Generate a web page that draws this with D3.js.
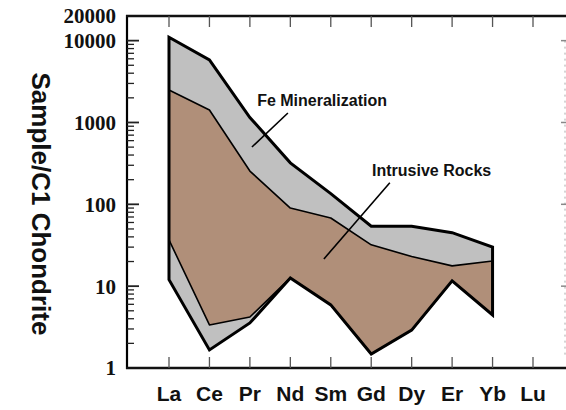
<!DOCTYPE html>
<html><head><meta charset="utf-8">
<script src="https://cdn.jsdelivr.net/npm/d3@7"></script>
<style>body{margin:0;background:#fff}svg{display:block}</style>
</head><body>
<svg id="c" width="566" height="410"></svg>
<script>
const elements = ["La","Ce","Pr","Nd","Sm","Gd","Dy","Er","Yb","Lu"];
// La..Yb values
const feUpper    = [11000, 5800, 1150, 321, 135, 54, 54, 45, 30];
const feLower    = [12, 1.66, 3.55, 12.6, 5.9, 1.48, 2.9, 11.6, 4.45];
const intrUpper  = [2500, 1420, 255, 90, 68, 32, 23, 17.7, 20.3];
const intrLower  = [36.7, 3.36, 4.2, 12.6, 5.9, 1.48, 2.9, 11.6, 4.45];
const yTickLabels = [1, 10, 100, 1000, 10000, 20000];
const yTitle = "Sample/C1 Chondrite";
const labels = [
  {text: "Fe Mineralization", at: [2.18, 1585], leader: [[2.94, 1306], [2.05, 501]]},
  {text: "Intrusive Rocks", at: [5.02, 222], leader: [[5.46, 183], [3.83, 21.5]]}
];

const svg = d3.select("#c");
const L = 127, R = 566, T = 16, B = 368;
const x = d3.scaleLinear().domain([0, 9]).range([169, 533]);
const y = d3.scaleLog().domain([1, 20000]).range([B, T]);

const area = (up, lo) => {
  const pts = up.map((v, i) => [x(i), y(v)]);
  const pts2 = lo.map((v, i) => [x(i), y(v)]).reverse();
  return d3.line()(pts.concat(pts2)) + "Z";
};

// Fields
svg.append("path").attr("d", area(feUpper, feLower)).attr("fill", "#c0c0c0").attr("stroke", "none");
svg.append("path").attr("d", area(intrUpper, intrLower)).attr("fill", "#b08f79")
  .attr("stroke", "#000").attr("stroke-width", 1.6).attr("stroke-linejoin", "round");
svg.append("path").attr("d", area(feUpper, feLower)).attr("fill", "none")
  .attr("stroke", "#000").attr("stroke-width", 3).attr("stroke-linejoin", "miter");

// Leader lines and labels
labels.forEach(l => {
  svg.append("line")
    .attr("x1", x(l.leader[0][0])).attr("y1", y(l.leader[0][1]))
    .attr("x2", x(l.leader[1][0])).attr("y2", y(l.leader[1][1]))
    .attr("stroke", "#000").attr("stroke-width", 1.6);
  svg.append("text").attr("x", x(l.at[0])).attr("y", y(l.at[1]))
    .attr("font-family", "Liberation Sans, Arial, sans-serif").attr("font-weight", "bold")
    .attr("font-size", 16).attr("fill", "#111").text(l.text);
});

// Frame
svg.append("line").attr("x1", L).attr("x2", L).attr("y1", T - 1).attr("y2", B + 1).attr("stroke", "#000").attr("stroke-width", 2.2);
svg.append("line").attr("x1", L - 1).attr("x2", R).attr("y1", T).attr("y2", T).attr("stroke", "#111").attr("stroke-width", 2.5);
svg.append("line").attr("x1", L - 1).attr("x2", R).attr("y1", B).attr("y2", B).attr("stroke", "#111").attr("stroke-width", 2.5);

// Right faint axis
svg.append("line").attr("x1", 565).attr("x2", 565).attr("y1", y(10000)).attr("y2", y(1.4))
  .attr("stroke", "#aaa").attr("stroke-width", 1).attr("stroke-dasharray", "2,4");
[1000, 100, 10, 10000].forEach(v => svg.append("line").attr("x1", 561).attr("x2", 566)
  .attr("y1", y(v)).attr("y2", y(v)).attr("stroke", "#888").attr("stroke-width", 1.5));

// Left ticks (log minor + major)
const ticks = y.ticks().filter(v => v < 20000 && v > 1);
ticks.forEach(v => {
  const major = Math.abs(Math.log10(v) - Math.round(Math.log10(v))) < 1e-9;
  svg.append("line").attr("x1", L).attr("x2", L + (major ? 12 : 7))
    .attr("y1", y(v)).attr("y2", y(v)).attr("stroke", "#222").attr("stroke-width", major ? 1.8 : 1.3);
});
svg.selectAll(".yl").data(yTickLabels).join("text")
  .attr("x", 116).attr("y", d => y(d)).attr("dy", "0.35em").attr("text-anchor", "end")
  .attr("font-family", "Liberation Serif, Times New Roman, serif").attr("font-weight", "bold")
  .attr("font-size", 21).attr("fill", "#111").text(d => d);

// Category ticks top and bottom
elements.forEach((e, i) => {
  svg.append("line").attr("x1", x(i)).attr("x2", x(i)).attr("y1", T).attr("y2", T + 11).attr("stroke", "#555").attr("stroke-width", 1.3);
  svg.append("line").attr("x1", x(i)).attr("x2", x(i)).attr("y1", B).attr("y2", B - 11).attr("stroke", "#555").attr("stroke-width", 1.3);
});
svg.selectAll(".xl").data(elements).join("text")
  .attr("x", (d, i) => x(i)).attr("y", 401).attr("text-anchor", "middle")
  .attr("font-family", "Liberation Sans, Arial, sans-serif").attr("font-weight", "bold")
  .attr("font-size", 21).attr("fill", "#111").text(d => d);

// Y title
svg.append("text").attr("transform", "translate(32,204) rotate(90)").attr("text-anchor", "middle")
  .attr("font-family", "Liberation Sans, Arial, sans-serif").attr("font-weight", "bold")
  .attr("font-size", 26).attr("fill", "#111").text(yTitle);
</script>
</body></html>
